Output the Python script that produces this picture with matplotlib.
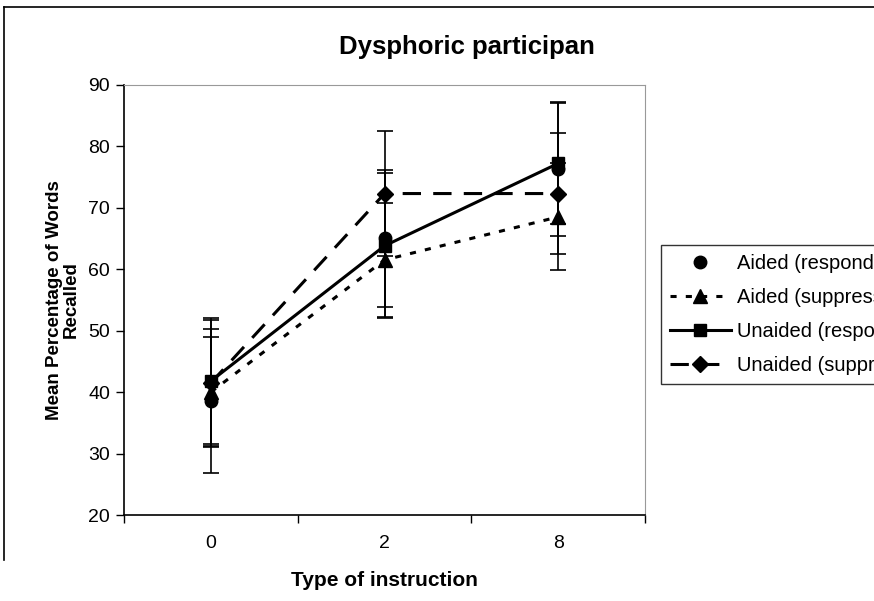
import matplotlib
matplotlib.use("Agg")
import matplotlib.pyplot as plt
from matplotlib.lines import Line2D

plt.rcParams['font.family'] = ['Liberation Sans', 'DejaVu Sans']

# --- данные ---
categories = ["0", "2", "8"]
aided_resp = [38.5, 65.0, 76.3]
aided_resp_err = [11.7, 11.2, 10.9]
aided_supp = [40.0, 61.5, 68.5]
aided_supp_err = [9.0, 9.3, 8.7]
unaided_resp = [41.8, 63.8, 77.2]
unaided_resp_err = [10.2, 11.8, 9.8]
unaided_supp = [41.5, 72.3, 72.3]
unaided_supp_err = [10.3, 10.2, 9.9]

series = [
    ("Aided (responded)", aided_resp, aided_resp_err, "o", "none", 9),
    ("Aided (suppressed)", aided_supp, aided_supp_err, "^", (0, (2, 3)), 10),
    ("Unaided (responded)", unaided_resp, unaided_resp_err, "s", "-", 9),
    ("Unaided (suppressed)", unaided_supp, unaided_supp_err, "D", (0, (6, 4)), 8),
]

fig = plt.figure(figsize=(8.74, 6.01), dpi=100)
ax = fig.add_axes([0.142, 0.143, 0.596, 0.716])

x = list(range(len(categories)))
for label, vals, err, marker, ls, ms in series:
    ax.errorbar(x, vals, yerr=err, fmt="none", ecolor="black",
                elinewidth=1.2, capsize=5.5, capthick=1.2, zorder=2)
    ax.plot(x, vals, color="black", linestyle=ls, linewidth=2.2,
            marker=marker, markersize=ms, markerfacecolor="black",
            markeredgecolor="black", label=label, zorder=3)

# оси
ax.set_xlim(-0.5, 2.5)
ax.set_ylim(20, 90)
ax.set_yticks(range(20, 91, 10))
ax.set_xticks([-0.5, 0.5, 1.5, 2.5])
ax.set_xticklabels([])
ax.set_xticks(x, minor=True)
ax.set_xticklabels(categories, minor=True)
ax.tick_params(axis="x", which="major", direction="out", length=6, width=1)
ax.tick_params(axis="x", which="minor", length=0, pad=14, labelsize=14)
ax.tick_params(axis="y", direction="out", length=6, width=1, labelsize=14, pad=4)

ax.spines["top"].set_color("#999999")
ax.spines["right"].set_color("#999999")
ax.spines["left"].set_linewidth(1.2)
ax.spines["bottom"].set_linewidth(1.2)

ax.set_ylabel("Mean Percentage of Words\nRecalled", fontsize=13.5, fontweight="bold",
              linespacing=1.0, labelpad=6)
ax.set_xlabel("Type of instruction", fontsize=15, fontweight="bold", labelpad=14)

fig.text(0.534, 0.922, "Dysphoric participan", ha="center", va="center",
         fontsize=18.5, fontweight="bold")

# легенда (обрезается краем картинки, как в оригинале)
leg = ax.legend(loc="upper left", bbox_to_anchor=(1.031, 0.628), frameon=True,
                fancybox=False, edgecolor="black", fontsize=14.5,
                handlelength=3.0, labelspacing=0.75, borderpad=0.45,
                handletextpad=0.3, borderaxespad=0)
leg.get_frame().set_linewidth(1.0)

# рамка диаграммы
fig.add_artist(Line2D([0.005, 1.0], [0.988, 0.988], color="black", linewidth=1.2,
                      transform=fig.transFigure))
fig.add_artist(Line2D([0.005, 0.005], [0.988, 0.068], color="black", linewidth=1.2,
                      transform=fig.transFigure))

fig.savefig("out.png", dpi=100)
